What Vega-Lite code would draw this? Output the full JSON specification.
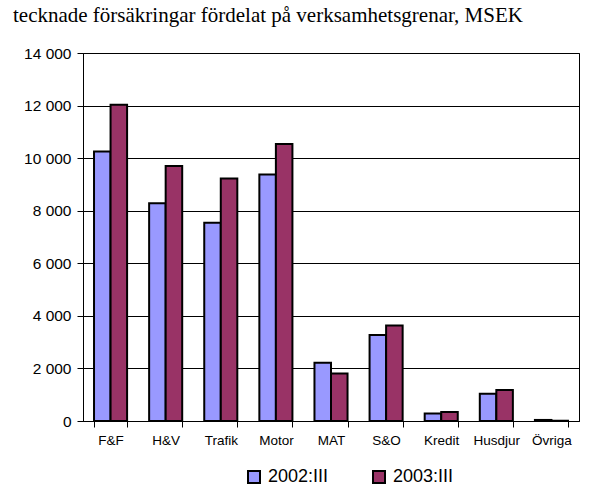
{
  "$schema": "https://vega.github.io/schema/vega-lite/v6.json",
  "width": 496,
  "height": 368,
  "autosize": {"type": "none"},
  "padding": {"left": 83, "top": 53, "right": 10, "bottom": 74},
  "background": "white",
  "title": {
    "text": "tecknade försäkringar fördelat på verksamhetsgrenar, MSEK",
    "anchor": "start",
    "frame": "group",
    "dx": -70,
    "offset": 0,
    "dy": -3,
    "baseline": "alphabetic",
    "font": "Liberation Serif",
    "fontSize": 21,
    "fontWeight": "normal",
    "color": "black"
  },
  "config": {
    "locale": {"number": {"decimal": ",", "thousands": " ", "grouping": [3], "currency": ["", " kr"]}},
    "view": {"stroke": "black", "strokeWidth": 1},
    "axis": {"labelFont": "Liberation Sans", "labelColor": "black", "domainColor": "black", "tickColor": "black", "titleFont": "Liberation Sans"}
  },
  "data": {
    "values": [
      {"gren": "F&F", "period": "2002:III", "value": 10250},
      {"gren": "F&F", "period": "2003:III", "value": 12030},
      {"gren": "H&V", "period": "2002:III", "value": 8280},
      {"gren": "H&V", "period": "2003:III", "value": 9700},
      {"gren": "Trafik", "period": "2002:III", "value": 7540},
      {"gren": "Trafik", "period": "2003:III", "value": 9230},
      {"gren": "Motor", "period": "2002:III", "value": 9380},
      {"gren": "Motor", "period": "2003:III", "value": 10540},
      {"gren": "MAT", "period": "2002:III", "value": 2220},
      {"gren": "MAT", "period": "2003:III", "value": 1810},
      {"gren": "S&O", "period": "2002:III", "value": 3270},
      {"gren": "S&O", "period": "2003:III", "value": 3630},
      {"gren": "Kredit", "period": "2002:III", "value": 290},
      {"gren": "Kredit", "period": "2003:III", "value": 340},
      {"gren": "Husdjur", "period": "2002:III", "value": 1040},
      {"gren": "Husdjur", "period": "2003:III", "value": 1180},
      {"gren": "Övriga", "period": "2002:III", "value": 40},
      {"gren": "Övriga", "period": "2003:III", "value": 10}
    ]
  },
  "mark": {"type": "bar", "stroke": "black", "strokeWidth": 2},
  "encoding": {
    "x": {
      "field": "gren",
      "type": "nominal",
      "sort": null,
      "scale": {"paddingInner": 0.4, "paddingOuter": 0.2},
      "axis": {
        "title": null,
        "labelAngle": 0,
        "labelFontSize": 13.5,
        "labelPadding": 6,
        "tickBand": "extent",
        "tickSize": 6,
        "grid": false,
        "domainWidth": 1
      }
    },
    "xOffset": {"field": "period", "type": "nominal"},
    "y": {
      "field": "value",
      "type": "quantitative",
      "scale": {"domain": [0, 14000], "nice": false},
      "axis": {
        "title": null,
        "values": [0, 2000, 4000, 6000, 8000, 10000, 12000, 14000],
        "format": ",d",
        "labelFontSize": 15.5,
        "labelPadding": 6,
        "tickSize": 6,
        "grid": true,
        "gridColor": "black",
        "gridOpacity": 1,
        "gridWidth": 1
      }
    },
    "color": {
      "field": "period",
      "type": "nominal",
      "scale": {"domain": ["2002:III", "2003:III"], "range": ["#9999FF", "#993366"]},
      "legend": {
        "title": null,
        "orient": "none",
        "direction": "horizontal",
        "legendX": 162,
        "legendY": 415,
        "symbolType": "square",
        "symbolSize": 144,
        "symbolStrokeColor": "black",
        "symbolStrokeWidth": 2,
        "symbolOpacity": 1,
        "labelFont": "Liberation Sans",
        "labelFontSize": 18,
        "labelColor": "black",
        "labelOffset": 5,
        "columnPadding": 40
      }
    }
  }
}
